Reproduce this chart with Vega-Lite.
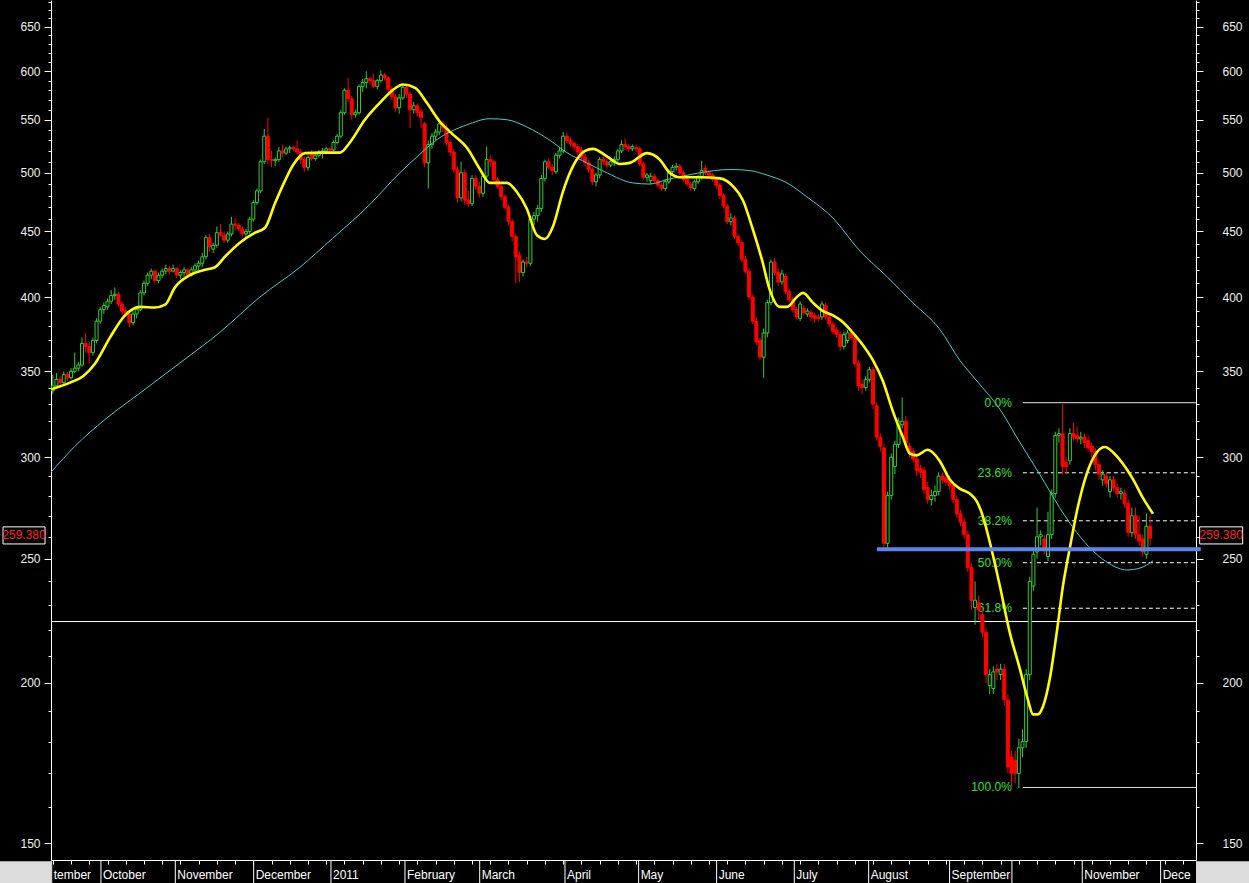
{
"$schema": "https://vega.github.io/schema/vega-lite/v6.json",
"width": 1145,
"height": 860,
"autosize": {"type": "none"},
"padding": {"left": 51, "top": 0, "right": 53, "bottom": 23},
"background": "#000000",
"config": {
  "view": {"stroke": null},
  "font": "Liberation Sans",
  "scale": {"continuousPadding": 0},
  "axis": {"domainColor": "#ffffff", "tickColor": "#ffffff", "labelColor": "#f0f0f0", "labelFont": "Liberation Sans", "labelFontSize": 12, "grid": false, "title": null, "domainWidth": 1, "tickWidth": 1}
},
"datasets": {
  "candles": [
{"i":0,"o":338,"h":348,"l":336,"c":341},{"i":1,"o":341,"h":349,"l":339,"c":345},{"i":2,"o":345,"h":347,"l":340,"c":343},{"i":3,"o":343,"h":350,"l":342,"c":348},{"i":4,"o":348,"h":350,"l":344,"c":346},
{"i":5,"o":346,"h":352,"l":345,"c":350},{"i":6,"o":350,"h":362,"l":349,"c":352},{"i":7,"o":352,"h":356,"l":350,"c":354},{"i":8,"o":354,"h":372,"l":353,"c":368},{"i":9,"o":368,"h":375,"l":362,"c":366},
{"i":10,"o":366,"h":369,"l":355,"c":362},{"i":11,"o":362,"h":372,"l":360,"c":370},{"i":12,"o":370,"h":385,"l":368,"c":383},{"i":13,"o":383,"h":393,"l":381,"c":391},{"i":14,"o":391,"h":396,"l":388,"c":394},
{"i":15,"o":393,"h":399,"l":391,"c":397},{"i":16,"o":397,"h":405,"l":395,"c":401},{"i":17,"o":401,"h":407,"l":398,"c":402},{"i":18,"o":402,"h":404,"l":393,"c":395},{"i":19,"o":395,"h":397,"l":387,"c":390},
{"i":20,"o":390,"h":393,"l":386,"c":388},{"i":21,"o":388,"h":390,"l":379,"c":382},{"i":22,"o":382,"h":390,"l":380,"c":388},{"i":23,"o":388,"h":393,"l":385,"c":391},{"i":24,"o":391,"h":405,"l":390,"c":403},
{"i":25,"o":403,"h":412,"l":401,"c":410},{"i":26,"o":410,"h":418,"l":408,"c":416},{"i":27,"o":416,"h":421,"l":413,"c":419},{"i":28,"o":419,"h":420,"l":410,"c":412},{"i":29,"o":412,"h":418,"l":410,"c":416},
{"i":30,"o":416,"h":421,"l":414,"c":419},{"i":31,"o":419,"h":424,"l":417,"c":421},{"i":32,"o":421,"h":423,"l":417,"c":419},{"i":33,"o":419,"h":424,"l":418,"c":421},{"i":34,"o":421,"h":422,"l":414,"c":416},
{"i":35,"o":416,"h":420,"l":413,"c":418},{"i":36,"o":418,"h":422,"l":415,"c":420},{"i":37,"o":420,"h":421,"l":414,"c":416},{"i":38,"o":416,"h":422,"l":415,"c":420},{"i":39,"o":420,"h":425,"l":418,"c":423},
{"i":40,"o":423,"h":427,"l":420,"c":425},{"i":41,"o":425,"h":433,"l":422,"c":430},{"i":42,"o":430,"h":447,"l":428,"c":445},{"i":43,"o":445,"h":448,"l":434,"c":438},{"i":44,"o":436,"h":441,"l":433,"c":439},
{"i":45,"o":439,"h":454,"l":437,"c":449},{"i":46,"o":449,"h":456,"l":446,"c":447},{"i":47,"o":447,"h":450,"l":441,"c":443},{"i":48,"o":443,"h":450,"l":441,"c":448},{"i":49,"o":448,"h":462,"l":446,"c":456},
{"i":50,"o":456,"h":461,"l":451,"c":455},{"i":51,"o":455,"h":457,"l":450,"c":452},{"i":52,"o":452,"h":454,"l":446,"c":448},{"i":53,"o":448,"h":452,"l":445,"c":450},{"i":54,"o":450,"h":462,"l":448,"c":460},
{"i":55,"o":460,"h":476,"l":458,"c":474},{"i":56,"o":474,"h":486,"l":472,"c":484},{"i":57,"o":484,"h":512,"l":482,"c":510},{"i":58,"o":510,"h":541,"l":508,"c":534},{"i":59,"o":534,"h":552,"l":508,"c":512},
{"i":60,"o":512,"h":520,"l":505,"c":511},{"i":61,"o":511,"h":514,"l":506,"c":512},{"i":62,"o":512,"h":524,"l":510,"c":520},{"i":63,"o":520,"h":526,"l":514,"c":518},{"i":64,"o":518,"h":524,"l":516,"c":522},
{"i":65,"o":522,"h":525,"l":518,"c":523},{"i":66,"o":523,"h":525,"l":520,"c":522},{"i":67,"o":522,"h":530,"l":517,"c":519},{"i":68,"o":519,"h":522,"l":508,"c":512},{"i":69,"o":512,"h":515,"l":501,"c":505},
{"i":70,"o":505,"h":516,"l":502,"c":514},{"i":71,"o":517,"h":521,"l":511,"c":513},{"i":72,"o":513,"h":518,"l":511,"c":516},{"i":73,"o":516,"h":521,"l":514,"c":519},{"i":74,"o":519,"h":523,"l":513,"c":520},
{"i":75,"o":520,"h":524,"l":517,"c":522},{"i":76,"o":522,"h":524,"l":519,"c":521},{"i":77,"o":521,"h":530,"l":520,"c":528},{"i":78,"o":528,"h":536,"l":526,"c":534},{"i":79,"o":534,"h":560,"l":532,"c":557},
{"i":80,"o":557,"h":582,"l":555,"c":580},{"i":81,"o":580,"h":593,"l":568,"c":571},{"i":82,"o":571,"h":574,"l":550,"c":555},{"i":83,"o":555,"h":560,"l":552,"c":557},{"i":84,"o":557,"h":586,"l":555,"c":584},
{"i":85,"o":584,"h":592,"l":578,"c":588},{"i":86,"o":588,"h":600,"l":582,"c":592},{"i":87,"o":592,"h":594,"l":586,"c":590},{"i":88,"o":590,"h":597,"l":582,"c":584},{"i":89,"o":584,"h":592,"l":581,"c":590},
{"i":90,"o":590,"h":601,"l":588,"c":596},{"i":91,"o":596,"h":598,"l":590,"c":593},{"i":92,"o":593,"h":595,"l":578,"c":581},{"i":93,"o":581,"h":584,"l":570,"c":573},{"i":94,"o":573,"h":576,"l":558,"c":562},
{"i":95,"o":562,"h":576,"l":556,"c":572},{"i":96,"o":572,"h":586,"l":570,"c":583},{"i":97,"o":583,"h":586,"l":572,"c":576},{"i":98,"o":576,"h":578,"l":542,"c":560},{"i":99,"o":560,"h":568,"l":556,"c":564},
{"i":100,"o":564,"h":566,"l":553,"c":557},{"i":101,"o":558,"h":561,"l":542,"c":552},{"i":102,"o":546,"h":548,"l":505,"c":509},{"i":103,"o":509,"h":530,"l":486,"c":526},{"i":104,"o":526,"h":537,"l":522,"c":534},
{"i":105,"o":534,"h":541,"l":530,"c":538},{"i":106,"o":538,"h":550,"l":535,"c":546},{"i":107,"o":546,"h":549,"l":538,"c":542},{"i":108,"o":542,"h":545,"l":525,"c":528},{"i":109,"o":528,"h":530,"l":515,"c":519},
{"i":110,"o":519,"h":522,"l":500,"c":503},{"i":111,"o":503,"h":506,"l":474,"c":478},{"i":112,"o":478,"h":510,"l":475,"c":500},{"i":113,"o":500,"h":503,"l":472,"c":476},{"i":114,"o":476,"h":484,"l":470,"c":473},
{"i":115,"o":473,"h":498,"l":471,"c":495},{"i":116,"o":495,"h":498,"l":485,"c":488},{"i":117,"o":488,"h":492,"l":478,"c":482},{"i":118,"o":482,"h":500,"l":479,"c":497},{"i":119,"o":497,"h":524,"l":495,"c":512},
{"i":120,"o":512,"h":516,"l":505,"c":510},{"i":121,"o":510,"h":512,"l":492,"c":494},{"i":122,"o":494,"h":496,"l":486,"c":488},{"i":123,"o":488,"h":491,"l":476,"c":479},{"i":124,"o":479,"h":481,"l":468,"c":470},
{"i":125,"o":470,"h":472,"l":455,"c":458},{"i":126,"o":458,"h":460,"l":442,"c":446},{"i":127,"o":446,"h":448,"l":410,"c":430},{"i":128,"o":431,"h":434,"l":411,"c":418},{"i":129,"o":418,"h":428,"l":415,"c":426},
{"i":130,"o":426,"h":430,"l":422,"c":425},{"i":131,"o":425,"h":462,"l":423,"c":460},{"i":132,"o":460,"h":466,"l":455,"c":463},{"i":133,"o":463,"h":472,"l":458,"c":469},{"i":134,"o":469,"h":498,"l":466,"c":495},
{"i":135,"o":495,"h":512,"l":492,"c":510},{"i":136,"o":510,"h":513,"l":503,"c":505},{"i":137,"o":505,"h":508,"l":498,"c":502},{"i":138,"o":501,"h":518,"l":499,"c":516},{"i":139,"o":516,"h":524,"l":513,"c":520},
{"i":140,"o":520,"h":538,"l":518,"c":534},{"i":141,"o":534,"h":537,"l":527,"c":530},{"i":142,"o":530,"h":533,"l":524,"c":527},{"i":143,"o":527,"h":529,"l":520,"c":524},{"i":144,"o":524,"h":527,"l":516,"c":519},
{"i":145,"o":521,"h":524,"l":511,"c":514},{"i":146,"o":514,"h":518,"l":506,"c":509},{"i":147,"o":509,"h":512,"l":500,"c":503},{"i":148,"o":503,"h":505,"l":489,"c":492},{"i":149,"o":492,"h":500,"l":488,"c":498},
{"i":150,"o":498,"h":514,"l":495,"c":512},{"i":151,"o":512,"h":515,"l":507,"c":510},{"i":152,"o":510,"h":513,"l":504,"c":507},{"i":153,"o":507,"h":512,"l":505,"c":510},{"i":154,"o":510,"h":515,"l":506,"c":512},
{"i":155,"o":512,"h":522,"l":510,"c":520},{"i":156,"o":520,"h":530,"l":518,"c":526},{"i":157,"o":526,"h":532,"l":521,"c":524},{"i":158,"o":524,"h":527,"l":519,"c":522},{"i":159,"o":522,"h":526,"l":520,"c":524},
{"i":160,"o":523,"h":526,"l":519,"c":522},{"i":161,"o":522,"h":524,"l":506,"c":508},{"i":162,"o":508,"h":510,"l":494,"c":496},{"i":163,"o":496,"h":500,"l":492,"c":498},{"i":164,"o":493,"h":500,"l":490,"c":497},
{"i":165,"o":497,"h":499,"l":491,"c":493},{"i":166,"o":493,"h":495,"l":487,"c":489},{"i":167,"o":489,"h":491,"l":484,"c":486},{"i":168,"o":486,"h":494,"l":484,"c":492},{"i":169,"o":492,"h":503,"l":490,"c":501},
{"i":170,"o":501,"h":507,"l":499,"c":505},{"i":171,"o":505,"h":509,"l":502,"c":506},{"i":172,"o":506,"h":508,"l":498,"c":500},{"i":173,"o":500,"h":502,"l":492,"c":494},{"i":174,"o":494,"h":496,"l":488,"c":490},
{"i":175,"o":490,"h":492,"l":484,"c":487},{"i":176,"o":486,"h":494,"l":484,"c":492},{"i":177,"o":492,"h":498,"l":490,"c":496},{"i":178,"o":496,"h":511,"l":494,"c":502},{"i":179,"o":504,"h":507,"l":498,"c":500},
{"i":180,"o":500,"h":502,"l":495,"c":498},{"i":181,"o":498,"h":500,"l":492,"c":494},{"i":182,"o":494,"h":496,"l":486,"c":489},{"i":183,"o":489,"h":491,"l":477,"c":480},{"i":184,"o":480,"h":482,"l":469,"c":471},
{"i":185,"o":471,"h":473,"l":456,"c":458},{"i":186,"o":458,"h":465,"l":455,"c":461},{"i":187,"o":461,"h":463,"l":444,"c":446},{"i":188,"o":446,"h":448,"l":438,"c":441},{"i":189,"o":441,"h":443,"l":426,"c":428},
{"i":190,"o":428,"h":431,"l":417,"c":419},{"i":191,"o":419,"h":421,"l":398,"c":400},{"i":192,"o":400,"h":402,"l":381,"c":383},{"i":193,"o":383,"h":386,"l":367,"c":369},{"i":194,"o":370,"h":372,"l":357,"c":359},
{"i":195,"o":359,"h":378,"l":346,"c":375},{"i":196,"o":375,"h":398,"l":372,"c":396},{"i":197,"o":396,"h":428,"l":394,"c":426},{"i":198,"o":426,"h":429,"l":416,"c":418},{"i":199,"o":418,"h":421,"l":408,"c":411},
{"i":200,"o":411,"h":420,"l":409,"c":417},{"i":201,"o":415,"h":417,"l":402,"c":404},{"i":202,"o":404,"h":406,"l":396,"c":398},{"i":203,"o":398,"h":400,"l":389,"c":391},{"i":204,"o":391,"h":393,"l":384,"c":386},
{"i":205,"o":385,"h":397,"l":383,"c":395},{"i":206,"o":392,"h":394,"l":387,"c":389},{"i":207,"o":388,"h":392,"l":386,"c":390},{"i":208,"o":389,"h":391,"l":383,"c":386},{"i":209,"o":387,"h":389,"l":382,"c":385},
{"i":210,"o":386,"h":388,"l":383,"c":385},{"i":211,"o":386,"h":397,"l":384,"c":395},{"i":212,"o":394,"h":396,"l":384,"c":386},{"i":213,"o":386,"h":388,"l":379,"c":381},{"i":214,"o":381,"h":383,"l":374,"c":376},
{"i":215,"o":377,"h":379,"l":372,"c":374},{"i":216,"o":374,"h":376,"l":363,"c":366},{"i":217,"o":366,"h":376,"l":364,"c":374},{"i":218,"o":370,"h":377,"l":368,"c":375},{"i":219,"o":375,"h":378,"l":370,"c":372},
{"i":220,"o":372,"h":374,"l":353,"c":355},{"i":221,"o":355,"h":357,"l":338,"c":341},{"i":222,"o":342,"h":345,"l":336,"c":340},{"i":223,"o":340,"h":347,"l":338,"c":345},{"i":224,"o":345,"h":353,"l":343,"c":351},
{"i":225,"o":351,"h":353,"l":327,"c":330},{"i":226,"o":329,"h":331,"l":309,"c":311},{"i":227,"o":311,"h":313,"l":303,"c":306},{"i":228,"o":305,"h":307,"l":255,"c":257},{"i":229,"o":257,"h":282,"l":255,"c":280},
{"i":230,"o":280,"h":302,"l":278,"c":300},{"i":231,"o":295,"h":309,"l":291,"c":307},{"i":232,"o":307,"h":322,"l":305,"c":320},{"i":233,"o":318,"h":334,"l":316,"c":320},{"i":234,"o":320,"h":323,"l":306,"c":308},
{"i":235,"o":306,"h":308,"l":300,"c":303},{"i":236,"o":303,"h":305,"l":297,"c":299},{"i":237,"o":299,"h":301,"l":290,"c":293},{"i":238,"o":294,"h":296,"l":289,"c":292},{"i":239,"o":293,"h":295,"l":281,"c":283},
{"i":240,"o":284,"h":287,"l":276,"c":278},{"i":241,"o":278,"h":283,"l":275,"c":280},{"i":242,"o":280,"h":285,"l":277,"c":282},{"i":243,"o":282,"h":292,"l":280,"c":290},{"i":244,"o":290,"h":292,"l":286,"c":288},
{"i":245,"o":289,"h":291,"l":285,"c":287},{"i":246,"o":288,"h":290,"l":283,"c":285},{"i":247,"o":285,"h":287,"l":276,"c":278},{"i":248,"o":278,"h":280,"l":269,"c":271},{"i":249,"o":271,"h":273,"l":265,"c":267},
{"i":250,"o":267,"h":269,"l":259,"c":261},{"i":251,"o":261,"h":263,"l":244,"c":246},{"i":252,"o":246,"h":248,"l":228,"c":232},{"i":253,"o":229,"h":240,"l":222,"c":232},{"i":254,"o":231,"h":234,"l":224,"c":228},
{"i":255,"o":226,"h":229,"l":217,"c":219},{"i":256,"o":219,"h":221,"l":200,"c":203},{"i":257,"o":199,"h":205,"l":196,"c":203},{"i":258,"o":198,"h":206,"l":196,"c":204},{"i":259,"o":205,"h":207,"l":201,"c":204},
{"i":260,"o":203,"h":207,"l":201,"c":205},{"i":261,"o":205,"h":207,"l":192,"c":194},{"i":262,"o":194,"h":196,"l":170,"c":172},{"i":263,"o":175,"h":177,"l":166,"c":170},{"i":264,"o":174,"h":177,"l":167,"c":170},
{"i":265,"o":170,"h":181,"l":165.6,"c":178},{"i":266,"o":178,"h":184,"l":175,"c":180},{"i":267,"o":180,"h":205,"l":178,"c":203},{"i":268,"o":203,"h":242,"l":201,"c":240},{"i":269,"o":238,"h":254,"l":236,"c":252},
{"i":270,"o":253,"h":274,"l":250,"c":260},{"i":271,"o":260,"h":263,"l":256,"c":261},{"i":272,"o":259,"h":261,"l":252,"c":255},{"i":273,"o":251,"h":272,"l":249,"c":261},{"i":274,"o":261,"h":283,"l":259,"c":281},
{"i":275,"o":281,"h":314,"l":279,"c":312},{"i":276,"o":312,"h":316,"l":308,"c":313},{"i":277,"o":313,"h":330,"l":291,"c":295},{"i":278,"o":297,"h":300,"l":291,"c":295},{"i":279,"o":298,"h":316,"l":296,"c":313},
{"i":280,"o":313,"h":319,"l":309,"c":311},{"i":281,"o":312,"h":317,"l":308,"c":310},{"i":282,"o":310,"h":314,"l":307,"c":311},{"i":283,"o":311,"h":313,"l":305,"c":308},{"i":284,"o":309,"h":312,"l":303,"c":305},
{"i":285,"o":306,"h":308,"l":300,"c":303},{"i":286,"o":303,"h":305,"l":293,"c":296},{"i":287,"o":296,"h":298,"l":288,"c":291},{"i":288,"o":288,"h":293,"l":285,"c":291},{"i":289,"o":290,"h":292,"l":284,"c":286},
{"i":290,"o":282,"h":290,"l":279,"c":288},{"i":291,"o":288,"h":290,"l":282,"c":284},{"i":292,"o":284,"h":286,"l":279,"c":281},{"i":293,"o":281,"h":284,"l":278,"c":282},{"i":294,"o":281,"h":283,"l":274,"c":276},
{"i":295,"o":276,"h":278,"l":260,"c":262},{"i":296,"o":262,"h":274,"l":260,"c":270},{"i":297,"o":270,"h":274,"l":259,"c":261},{"i":298,"o":261,"h":270,"l":256,"c":258},{"i":299,"o":259,"h":261,"l":251,"c":253},
{"i":300,"o":252,"h":271,"l":250,"c":265},{"i":301,"o":265,"h":270,"l":256,"c":259.38}
  ],
  "yellow": [
{"i":-0.4,"v":339},{"i":4.7,"v":343},{"i":8.3,"v":347},{"i":11.6,"v":355},{"i":15.7,"v":372},{"i":19.8,"v":387},{"i":23.9,"v":393},{"i":28,"v":392.5},{"i":30.8,"v":394.5},{"i":33.5,"v":407},{"i":37.6,"v":416},{"i":41.7,"v":420},{"i":44.5,"v":422},{"i":47.2,"v":430},{"i":51.3,"v":441},{"i":55.5,"v":449},{"i":58.2,"v":453},{"i":60.9,"v":473},{"i":63.7,"v":493},{"i":65.9,"v":507},{"i":69.2,"v":518},{"i":73.3,"v":518.5},{"i":78.8,"v":518.5},{"i":81.5,"v":528},{"i":85.6,"v":550},{"i":89.7,"v":567},{"i":93.9,"v":582},{"i":96,"v":586},{"i":99.4,"v":582.5},{"i":102.6,"v":567},{"i":106.2,"v":548},{"i":109.8,"v":535.5},{"i":113.6,"v":523},{"i":117.2,"v":503},{"i":119.9,"v":491},{"i":124.6,"v":491},{"i":127.3,"v":483},{"i":130,"v":469},{"i":132.8,"v":447},{"i":135,"v":444},{"i":137.2,"v":454},{"i":139.9,"v":483},{"i":142.7,"v":506},{"i":146,"v":520},{"i":148.2,"v":522},{"i":152,"v":515},{"i":155.6,"v":508},{"i":158.3,"v":509},{"i":163,"v":518},{"i":166.5,"v":512},{"i":169.2,"v":500},{"i":172,"v":496},{"i":177.5,"v":496},{"i":183,"v":495},{"i":186.6,"v":488},{"i":189.3,"v":476},{"i":192,"v":452},{"i":194.5,"v":428},{"i":196.7,"v":405},{"i":199.4,"v":393},{"i":201.4,"v":393},{"i":204.1,"v":400},{"i":205.8,"v":403},{"i":208.5,"v":396},{"i":211.3,"v":390},{"i":214,"v":387},{"i":216.7,"v":382.5},{"i":219.5,"v":375},{"i":222.2,"v":367},{"i":225,"v":357},{"i":227.7,"v":344},{"i":230.4,"v":326},{"i":233.2,"v":311},{"i":235.1,"v":302},{"i":237,"v":301},{"i":240,"v":304},{"i":243.3,"v":298},{"i":246,"v":288.4},{"i":248.8,"v":283.5},{"i":251.5,"v":281},{"i":253.5,"v":277},{"i":255.1,"v":270},{"i":257.6,"v":253.6},{"i":259.8,"v":238},{"i":262.5,"v":219},{"i":265.3,"v":205},{"i":267.5,"v":194},{"i":268.9,"v":189},{"i":270.2,"v":189},{"i":271.6,"v":191.6},{"i":273.5,"v":201.6},{"i":275.4,"v":219},{"i":277.1,"v":238},{"i":279,"v":255},{"i":280.9,"v":272},{"i":283.6,"v":291},{"i":286.4,"v":302.7},{"i":288.6,"v":305.5},{"i":290.8,"v":302.7},{"i":293.5,"v":296.6},{"i":296.3,"v":288.4},{"i":299,"v":279},{"i":301.8,"v":271}
  ],
  "cyan": [
{"i":-0.5,"v":292},{"i":6.1,"v":306},{"i":14.3,"v":321},{"i":23.9,"v":336.6},{"i":34.9,"v":355.4},{"i":45.9,"v":375.6},{"i":56.8,"v":400},{"i":67.8,"v":422},{"i":76.8,"v":444.6},{"i":86.2,"v":470},{"i":95.2,"v":500},{"i":100.7,"v":517},{"i":104.3,"v":528},{"i":113.6,"v":545},{"i":119.9,"v":551},{"i":124.6,"v":550},{"i":130,"v":543},{"i":136.4,"v":530},{"i":141,"v":518.5},{"i":146.5,"v":509},{"i":152,"v":500},{"i":159.1,"v":491},{"i":163.8,"v":490},{"i":168.5,"v":494},{"i":172.8,"v":497},{"i":177.5,"v":500},{"i":185.7,"v":503},{"i":191.2,"v":502},{"i":195.9,"v":498},{"i":201.4,"v":491},{"i":206.8,"v":479},{"i":214,"v":461},{"i":221.4,"v":434.5},{"i":228.8,"v":415},{"i":235.9,"v":396},{"i":243.3,"v":377.5},{"i":248.8,"v":357},{"i":253.5,"v":344},{"i":259.8,"v":327},{"i":265.3,"v":308},{"i":270.7,"v":291},{"i":276.2,"v":274},{"i":280.9,"v":262},{"i":285.3,"v":253.6},{"i":289.9,"v":247.7},{"i":294.6,"v":245},{"i":298.2,"v":245.8},{"i":301.8,"v":249}
  ],
  "fib": [
{"p":"0.0%","v":330.85},{"p":"23.6%","v":291.7},{"p":"38.2%","v":267.6},{"p":"50.0%","v":248.2},{"p":"61.8%","v":228.7},{"p":"100.0%","v":165.75}
  ],
  "months": [
{"m":"tember","i":-0.3},{"m":"October","i":13.2},{"m":"November","i":33.6},{"m":"December","i":55.1},{"m":"2011","i":76.3},{"m":"February","i":96.6},{"m":"March","i":117.1},{"m":"April","i":140.5},{"m":"May","i":160.7},{"m":"June","i":182.1},{"m":"July","i":203.4},{"m":"August","i":223.8},{"m":"September","i":246.0},{"m":"","i":263.1},{"m":"November","i":282.4},{"m":"December","i":303.9}
  ],
  "tags": [
{"a":-13.66,"b":-2.14,"p":-7.9,"t":"259.380"},{"a":314.6,"b":326.4,"p":320.5,"t":"259.380"}
  ],
  "corners": [
{"a":-14.6,"b":-0.5},{"a":313.6,"b":328.3}
  ]
},
"layer": [
  {
    "data": {"name": "corners"},
    "mark": {"type": "rect", "fill": "#dcdcdc"},
    "encoding": {
      "x": {"field": "a", "type": "quantitative", "scale": {"domain": [-0.5, 313.6], "nice": false, "zero": false, "padding": 0}, "axis": null},
      "x2": {"field": "b"},
      "y": {"datum": 139.3, "type": "quantitative", "scale": {"type": "log", "domain": [145.5, 682], "nice": false}, "axis": null},
      "y2": {"datum": 145.2}
    }
  },
  {
    "data": {"values": [{"v": 223.3}]},
    "mark": {"type": "rule", "color": "#ffffff", "strokeWidth": 1},
    "encoding": {
      "y": {"field": "v", "type": "quantitative", "scale": {"type": "log", "domain": [145.5, 682], "nice": false}, "axis": null}
    }
  },
  {
    "data": {"name": "fib"},
    "mark": {"type": "rule", "color": "#ffffff", "strokeWidth": 1},
    "encoding": {
      "x": {"datum": 266.1, "type": "quantitative", "scale": {"domain": [-0.5, 313.6], "nice": false, "zero": false, "padding": 0}, "axis": null},
      "x2": {"datum": 313.6},
      "y": {"field": "v", "type": "quantitative", "scale": {"type": "log", "domain": [145.5, 682], "nice": false}, "axis": null},
      "strokeDash": {"condition": {"test": "datum.p === '0.0%' || datum.p === '100.0%'", "value": [1, 0]}, "value": [4, 3]}
    }
  },
  {
    "data": {"name": "fib"},
    "mark": {"type": "text", "align": "right", "baseline": "middle", "dx": -11, "fontSize": 12, "font": "Liberation Sans", "color": "#33e033"},
    "encoding": {
      "x": {"datum": 266.1, "type": "quantitative", "scale": {"domain": [-0.5, 313.6], "nice": false, "zero": false, "padding": 0}, "axis": null},
      "y": {"field": "v", "type": "quantitative", "scale": {"type": "log", "domain": [145.5, 682], "nice": false}, "axis": null},
      "text": {"field": "p"}
    }
  },
  {
    "data": {"name": "candles"},
    "mark": {"type": "rule", "strokeWidth": 1},
    "encoding": {
      "x": {"field": "i", "type": "quantitative", "scale": {"domain": [-0.5, 313.6], "nice": false, "zero": false, "padding": 0},
            "axis": {"orient": "bottom", "tickCount": 63, "labels": false, "tickSize": 4, "domain": true, "domainColor": "#ffffff", "tickColor": "#ffffff"}},
      "y": {"field": "l", "type": "quantitative", "scale": {"type": "log", "domain": [145.5, 682], "nice": false},
            "axis": {"orient": "left", "values": [150,160,170,180,190,200,210,220,230,240,250,260,270,280,290,300,310,320,330,340,350,360,370,380,390,400,410,420,430,440,450,460,470,480,490,500,510,520,530,540,550,560,570,580,590,600,610,620,630,640,650,660,670,680],
                     "format": "d", "labelExpr": "datum.value % 50 === 0 ? datum.label : ''",
                     "tickSize": {"condition": {"test": "datum.value % 50 === 0", "value": 7}, "value": 3},
                     "labelPadding": 4, "labelOverlap": false, "labelFlush": false, "labelBound": false}},
      "y2": {"field": "h"},
      "color": {"condition": {"test": "datum.c >= datum.o", "value": "#33cc33"}, "value": "#ff0000"}
    }
  },
  {
    "data": {"name": "candles"},
    "mark": {"type": "bar", "width": 3, "strokeWidth": 1},
    "encoding": {
      "x": {"field": "i", "type": "quantitative", "scale": {"domain": [-0.5, 313.6], "nice": false, "zero": false, "padding": 0}, "axis": null},
      "y": {"field": "o", "type": "quantitative", "scale": {"type": "log", "domain": [145.5, 682], "nice": false},
            "axis": {"orient": "right", "values": [150,160,170,180,190,200,210,220,230,240,250,260,270,280,290,300,310,320,330,340,350,360,370,380,390,400,410,420,430,440,450,460,470,480,490,500,510,520,530,540,550,560,570,580,590,600,610,620,630,640,650,660,670,680],
                     "format": "d", "labelExpr": "datum.value % 50 === 0 ? datum.label : ''",
                     "tickSize": {"condition": {"test": "datum.value % 50 === 0", "value": 7}, "value": 3},
                     "labelPadding": 19, "labelOverlap": false, "labelFlush": false, "labelBound": false}},
      "y2": {"field": "c"},
      "fill": {"condition": {"test": "datum.c >= datum.o", "value": "#000000"}, "value": "#ff0000"},
      "stroke": {"condition": {"test": "datum.c >= datum.o", "value": "#33cc33"}, "value": "#ff0000"}
    }
  },
  {
    "data": {"name": "cyan"},
    "mark": {"type": "line", "color": "#40d0d0", "strokeWidth": 1, "interpolate": "monotone"},
    "encoding": {
      "x": {"field": "i", "type": "quantitative", "scale": {"domain": [-0.5, 313.6], "nice": false, "zero": false, "padding": 0}, "axis": null},
      "y": {"field": "v", "type": "quantitative", "scale": {"type": "log", "domain": [145.5, 682], "nice": false}, "axis": null}
    }
  },
  {
    "data": {"name": "yellow"},
    "mark": {"type": "line", "color": "#ffff00", "strokeWidth": 2.6, "interpolate": "monotone"},
    "encoding": {
      "x": {"field": "i", "type": "quantitative", "scale": {"domain": [-0.5, 313.6], "nice": false, "zero": false, "padding": 0}, "axis": null},
      "y": {"field": "v", "type": "quantitative", "scale": {"type": "log", "domain": [145.5, 682], "nice": false}, "axis": null}
    }
  },
  {
    "data": {"values": [{"v": 254.3}]},
    "mark": {"type": "rule", "color": "#5a85f0", "strokeWidth": 4},
    "encoding": {
      "x": {"datum": 226.05, "type": "quantitative", "scale": {"domain": [-0.5, 313.6], "nice": false, "zero": false, "padding": 0}, "axis": null},
      "x2": {"datum": 314.9},
      "y": {"field": "v", "type": "quantitative", "scale": {"type": "log", "domain": [145.5, 682], "nice": false}, "axis": null}
    }
  },
  {
    "data": {"name": "tags"},
    "mark": {"type": "rect", "fill": "#000000", "stroke": "#ffffff", "strokeWidth": 1},
    "encoding": {
      "x": {"field": "a", "type": "quantitative", "scale": {"domain": [-0.5, 313.6], "nice": false, "zero": false, "padding": 0}, "axis": null},
      "x2": {"field": "b"},
      "y": {"datum": 256.7, "type": "quantitative", "scale": {"type": "log", "domain": [145.5, 682], "nice": false}, "axis": null},
      "y2": {"datum": 264.7}
    }
  },
  {
    "data": {"name": "tags"},
    "mark": {"type": "text", "align": "center", "baseline": "middle", "fontSize": 12, "font": "Liberation Sans", "color": "#ff2020"},
    "encoding": {
      "x": {"field": "p", "type": "quantitative", "scale": {"domain": [-0.5, 313.6], "nice": false, "zero": false, "padding": 0}, "axis": null},
      "y": {"datum": 260.7, "type": "quantitative", "scale": {"type": "log", "domain": [145.5, 682], "nice": false}, "axis": null},
      "text": {"field": "t"}
    }
  },
  {
    "data": {"name": "months"},
    "mark": {"type": "rule", "color": "#ffffff", "strokeWidth": 1},
    "encoding": {
      "x": {"field": "i", "type": "quantitative", "scale": {"domain": [-0.5, 313.6], "nice": false, "zero": false, "padding": 0}, "axis": null},
      "y": {"datum": 139.4, "type": "quantitative", "scale": {"type": "log", "domain": [145.5, 682], "nice": false}, "axis": null},
      "y2": {"datum": 145.5}
    }
  },
  {
    "data": {"name": "months"},
    "transform": [{"filter": "datum.i < 300"}],
    "mark": {"type": "text", "align": "left", "baseline": "alphabetic", "dx": 2, "fontSize": 12, "font": "Liberation Sans", "color": "#ffffff"},
    "encoding": {
      "x": {"field": "i", "type": "quantitative", "scale": {"domain": [-0.5, 313.6], "nice": false, "zero": false, "padding": 0}, "axis": null},
      "y": {"datum": 140.6, "type": "quantitative", "scale": {"type": "log", "domain": [145.5, 682], "nice": false}, "axis": null},
      "text": {"field": "m"}
    }
  },
  {
    "data": {"name": "months"},
    "transform": [{"filter": "datum.i > 300"}],
    "mark": {"type": "text", "align": "left", "baseline": "alphabetic", "dx": 2, "fontSize": 12, "font": "Liberation Sans", "color": "#ffffff", "limit": 34, "ellipsis": "\u200b"},
    "encoding": {
      "x": {"field": "i", "type": "quantitative", "scale": {"domain": [-0.5, 313.6], "nice": false, "zero": false, "padding": 0}, "axis": null},
      "y": {"datum": 140.6, "type": "quantitative", "scale": {"type": "log", "domain": [145.5, 682], "nice": false}, "axis": null},
      "text": {"field": "m"}
    }
  }
],
"resolve": {"axis": {"x": "independent", "y": "independent"}}
}
